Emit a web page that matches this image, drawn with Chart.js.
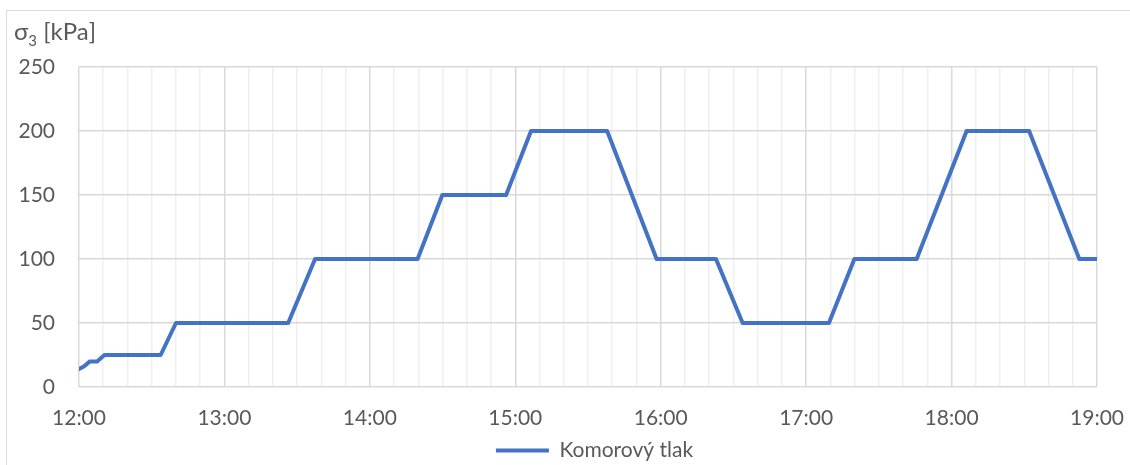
<!DOCTYPE html>
<html>
<head>
<meta charset="utf-8">
<script src="https://cdn.jsdelivr.net/npm/chart.js@4"></script>
<style>
    html, body { margin: 0; padding: 0; background: #fff; overflow: hidden; }
    #wrap { position: relative; width: 1130px; height: 480px; }
    #frame {
        position: absolute; left: 6px; top: 10px; width: 1140px; height: 480px;
        border-top: 1.5px solid #d9d9d9; border-left: 1.5px solid #d9d9d9;
    }
    #ytitle {
        position: absolute; left: 14px; top: 16px;
        font-family: Lato, sans-serif; font-size: 24px; color: #595959;
    }
    #ytitle sub { font-size: 15px; }
</style>
</head>
<body>
<div id="wrap">
    <div id="frame"></div>
    <div id="ytitle">σ<sub>3</sub> [kPa]</div>
    <canvas id="pressure_chart" width="1130" height="480"></canvas>
</div>
<script>
// time in minutes after 12:00
const minutes = [0, 2, 4.5, 7.5, 10.5, 33.7, 40, 86.3, 97.4, 139.7, 149.9, 176.2, 186.5,
    217.9, 238.3, 262.8, 273.8, 309.4, 319.9, 345.6, 366.2, 392, 412.7, 420];
const pressure = [14, 16, 20, 20, 25, 25, 50, 50, 100, 100, 150, 150, 200,
    200, 100, 100, 50, 50, 100, 100, 200, 200, 100, 100];
const hourLabels = ["12:00", "13:00", "14:00", "15:00", "16:00", "17:00", "18:00", "19:00"];
const seriesName = "Komorový tlak";

const points = minutes.map((m, i) => ({ x: m, y: pressure[i] }));
const labelFont = { family: "Lato", size: 21 };

// legend in the original sits centred under the plot, not the canvas
const shiftLegend = {
    id: "shiftLegend",
    afterLayout: (chart) => {
        chart.legend.left += 41;
        chart.legend.right += 41;
    },
};

const pressure_config = {
    type: "line",
    data: {
        datasets: [
            {
                label: seriesName,
                data: points,
                borderColor: "#4472C4",
                backgroundColor: "#4472C4",
                borderWidth: 4,
                borderCapStyle: "round",
                borderJoinStyle: "round",
                pointRadius: 0,
                tension: 0,
            },
        ],
    },
    options: {
        responsive: false,
        animation: false,
        layout: { padding: { left: 10, right: 33, top: 67, bottom: 9 } },
        plugins: {
            tooltip: { enabled: false },
            legend: {
                position: "bottom",
                labels: {
                    color: "#595959",
                    font: labelFont,
                    boxWidth: 53,
                    boxHeight: 4,
                    padding: 0,
                    generateLabels: (chart) =>
                        Chart.defaults.plugins.legend.labels.generateLabels(chart)
                            .map((item) => ({ ...item, lineWidth: 0 })),
                },
            },
        },
        scales: {
            x: {
                type: "linear",
                min: 0,
                max: 420,
                border: { display: false },
                grid: {
                    drawTicks: false,
                    color: (ctx) => (ctx.tick && ctx.tick.value % 60 === 0 ? "#d9d9d9" : "#efefef"),
                    lineWidth: 1.5,
                },
                ticks: {
                    stepSize: 10,
                    autoSkip: false,
                    maxRotation: 0,
                    padding: 19,
                    color: "#595959",
                    font: labelFont,
                    callback: (v) => (v % 60 === 0 ? hourLabels[v / 60] : ""),
                },
                afterFit: (scale) => {
                    scale.height = 53;
                    scale.paddingLeft = 0;
                    scale.paddingRight = 0;
                },
            },
            y: {
                min: 0,
                max: 250,
                border: { display: false },
                grid: { drawTicks: false, color: "#d9d9d9", lineWidth: 1.5 },
                ticks: {
                    stepSize: 50,
                    padding: 24,
                    color: "#595959",
                    font: labelFont,
                },
                afterFit: (scale) => {
                    scale.width = 69;
                    scale.paddingTop = 0;
                    scale.paddingBottom = 0;
                },
            },
        },
    },
    plugins: [shiftLegend],
};

const pressure_chart = new Chart(
    document.getElementById("pressure_chart"),
    pressure_config
);
</script>
</body>
</html>
